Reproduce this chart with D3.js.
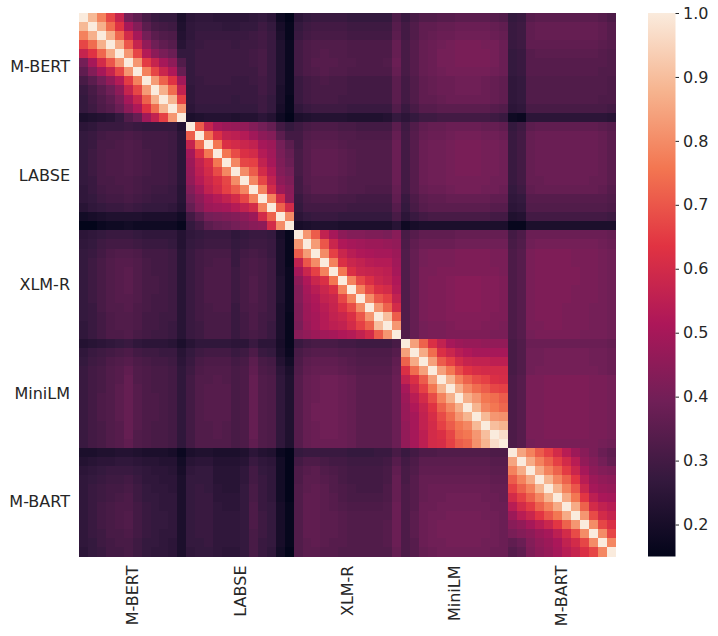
<!DOCTYPE html>
<html>
<head>
<meta charset="utf-8">
<script src="https://cdn.jsdelivr.net/npm/d3@7"></script>
<style>
  body { margin: 0; background: #fff; }
  text { font-family: "DejaVu Sans", sans-serif; }
</style>
</head>
<body>
<div class="chart"></div>
<script>
// model blocks, 12 layers each
var models = ["M-BERT", "LABSE", "XLM-R", "MiniLM", "M-BART"];
var nLayers = 12;
var cbarTicks = [0.2, 0.3, 0.4, 0.5, 0.6, 0.7, 0.8, 0.9, 1.0];

// similarity values x100, one 12x12 block per (row model, column model)
var mbert_mbert = [
  [100,89,78,67,57,40,36,31,28,27,27,21],
  [89,100,87,74,63,50,43,35,31,30,29,22],
  [78,87,100,87,73,60,50,40,35,33,32,23],
  [67,74,87,100,86,70,57,46,39,36,34,24],
  [57,63,73,86,100,82,67,53,45,41,38,27],
  [40,50,60,70,82,100,82,65,57,50,45,33],
  [36,43,50,57,67,82,100,78,67,58,52,37],
  [31,35,40,46,53,65,78,100,83,72,63,49],
  [28,31,35,39,45,57,67,83,100,87,74,56],
  [27,30,33,36,41,50,58,72,87,100,88,66],
  [27,29,32,34,38,45,52,63,74,88,100,82],
  [21,22,23,24,27,33,37,49,56,66,82,100]
];
var mbert_labse = [
  [25,26,26,25,25,25,25,26,27,25,18,15],
  [26,27,27,27,26,26,27,27,29,27,20,16],
  [26,28,28,28,28,28,28,29,30,28,21,16],
  [27,28,29,29,29,28,29,29,30,28,22,17],
  [27,29,29,29,29,29,29,30,31,28,22,17],
  [27,29,29,29,29,29,29,30,31,28,22,17],
  [27,29,29,29,29,29,29,29,31,28,22,17],
  [27,28,29,29,29,28,28,29,30,28,22,17],
  [26,28,28,28,28,28,28,28,30,28,21,17],
  [26,28,28,28,28,27,28,28,29,27,21,16],
  [25,27,27,27,27,27,27,27,29,27,20,16],
  [21,22,23,23,23,22,23,23,25,23,18,15]
];
var mbert_xlmr = [
  [25,27,28,28,28,28,27,27,27,27,27,32],
  [27,29,30,30,30,30,29,29,29,29,29,34],
  [28,30,31,31,31,31,30,30,30,30,30,35],
  [30,32,33,33,33,33,32,32,32,32,32,37],
  [30,32,33,34,33,33,32,32,32,32,32,37],
  [30,32,34,34,34,33,33,32,32,32,33,38],
  [30,32,33,34,33,33,32,32,32,32,32,37],
  [28,30,31,32,31,31,30,30,30,30,30,35],
  [28,30,31,31,31,31,30,30,30,30,30,35],
  [28,30,31,31,31,30,30,30,30,30,30,35],
  [26,28,29,29,29,29,28,28,28,28,28,33],
  [21,22,23,23,23,23,22,22,22,22,23,27]
];
var mbert_minilm = [
  [28,31,33,33,34,34,35,35,35,35,34,33],
  [30,33,36,36,37,37,38,38,38,38,37,36],
  [30,33,36,37,38,38,39,39,39,39,38,37],
  [31,34,37,38,39,40,41,41,41,40,40,38],
  [31,34,37,38,40,40,41,41,41,41,40,38],
  [31,34,37,38,40,40,41,41,41,41,40,38],
  [31,34,37,38,39,40,40,40,40,40,39,38],
  [30,33,36,37,38,38,39,39,39,38,37,36],
  [30,33,36,37,38,38,39,39,39,38,37,36],
  [30,33,36,36,37,38,38,38,38,38,37,36],
  [28,31,34,34,35,35,35,35,35,35,34,33],
  [25,27,29,29,30,30,30,30,30,30,29,28]
];
var mbert_mbart = [
  [27,28,34,35,35,35,35,35,35,35,34,32],
  [28,29,36,37,37,37,37,37,37,37,36,34],
  [28,29,36,37,37,37,37,37,37,37,36,34],
  [28,29,36,36,36,36,36,36,36,36,35,34],
  [27,28,34,35,35,35,35,35,35,35,34,33],
  [27,28,34,34,34,34,34,34,34,34,34,33],
  [27,28,34,34,34,34,34,34,34,34,33,33],
  [26,27,33,33,33,33,33,33,33,33,33,32],
  [26,27,33,33,33,33,33,33,33,33,33,32],
  [26,27,33,33,33,33,33,33,33,33,32,32],
  [25,26,31,31,31,31,31,31,31,31,31,30],
  [18,17,25,25,25,25,25,25,25,25,25,24]
];

var labse_mbert = [
  [25,26,28,28,28,29,28,27,27,27,27,23],
  [27,28,30,31,31,32,31,30,30,30,29,25],
  [27,28,31,31,32,33,32,30,30,30,29,25],
  [27,29,31,32,32,33,32,31,30,30,29,25],
  [27,29,31,32,32,33,32,31,30,30,29,25],
  [27,29,31,32,32,33,32,31,30,30,29,25],
  [27,28,31,31,32,32,31,30,30,30,29,25],
  [26,28,30,31,31,32,31,30,29,29,28,24],
  [26,27,29,30,30,31,30,29,28,28,28,24],
  [24,26,27,28,28,29,28,27,27,27,26,23],
  [19,20,21,22,22,22,22,21,21,21,21,19],
  [15,15,17,18,18,19,18,18,18,18,18,16]
];
var labse_labse = [
  [100,71,57,50,48,47,46,43,40,37,30,27],
  [71,100,74,62,56,55,53,49,45,43,35,30],
  [57,74,100,76,62,60,58,56,50,48,40,35],
  [50,62,76,100,76,68,62,60,53,49,41,37],
  [48,56,62,76,100,79,67,66,56,50,42,38],
  [47,55,60,68,79,100,80,71,60,53,43,40],
  [46,53,58,62,67,80,100,79,67,56,45,42],
  [43,49,56,60,66,71,79,100,78,60,48,44],
  [40,45,50,53,56,60,67,78,100,78,60,45],
  [37,43,48,49,50,53,56,60,78,100,72,60],
  [30,35,40,41,42,43,45,48,60,72,100,80],
  [27,30,35,37,38,40,42,44,45,60,80,100]
];
var labse_xlmr = [
  [29,31,32,32,32,31,31,30,30,30,30,35],
  [30,33,34,34,34,33,33,32,32,32,32,37],
  [30,34,35,35,35,34,33,33,33,33,33,38],
  [31,34,36,36,36,35,34,33,33,33,33,38],
  [31,34,36,36,36,35,34,33,33,33,33,38],
  [31,34,36,36,36,35,34,33,33,33,33,38],
  [30,34,35,35,35,34,33,33,33,33,33,38],
  [30,33,35,35,35,34,33,33,32,32,32,37],
  [28,31,32,32,32,31,31,30,30,30,30,36],
  [27,30,30,30,30,30,29,29,29,29,29,34],
  [25,27,28,28,28,27,27,27,27,27,27,31],
  [20,21,22,22,22,21,21,21,21,21,21,24]
];
var labse_minilm = [
  [29,33,36,37,37,38,38,38,38,37,37,36],
  [30,34,37,38,38,39,40,40,40,39,39,38],
  [30,34,38,39,39,40,41,41,41,40,40,39],
  [30,34,38,39,39,40,41,41,41,40,40,39],
  [30,34,38,39,39,40,41,41,41,40,40,39],
  [30,34,38,39,39,40,41,41,41,40,40,39],
  [30,34,38,39,39,40,40,40,40,40,39,39],
  [30,34,37,38,38,39,40,40,40,39,39,38],
  [28,32,35,36,36,37,37,37,37,37,36,36],
  [27,31,34,35,35,35,35,35,35,35,34,34],
  [25,28,30,31,31,31,31,31,31,31,30,30],
  [18,20,21,21,21,21,21,21,21,21,21,21]
];
var labse_mbart = [
  [27,29,35,36,36,36,36,36,36,36,35,34],
  [28,30,37,38,38,38,38,38,38,38,37,35],
  [28,30,37,38,38,38,38,38,38,38,37,35],
  [28,30,37,38,38,38,38,38,38,38,37,35],
  [28,30,37,38,38,38,38,38,38,38,37,35],
  [28,30,37,38,38,38,38,38,38,38,37,35],
  [28,30,37,37,38,38,38,38,38,37,37,35],
  [27,29,36,37,37,37,37,37,37,37,36,34],
  [26,27,34,34,34,34,34,34,34,34,34,33],
  [25,26,33,33,33,33,33,33,33,33,33,32],
  [22,23,30,30,30,30,30,30,30,30,30,29],
  [16,16,21,21,21,21,21,21,21,21,21,21]
];

var xlmr_mbert = [
  [25,26,27,28,28,28,27,26,26,26,26,23],
  [26,27,29,30,30,30,29,28,28,28,27,23],
  [27,28,30,32,33,33,32,30,30,30,29,24],
  [27,29,31,33,34,34,33,31,30,30,29,24],
  [27,29,31,33,34,35,33,31,30,30,29,24],
  [27,29,31,33,34,35,33,31,31,30,29,24],
  [27,29,31,33,34,35,33,31,31,30,29,24],
  [27,29,31,33,34,34,33,31,30,30,29,24],
  [27,28,31,33,33,34,32,31,30,30,29,24],
  [27,28,30,32,33,33,32,30,30,29,29,24],
  [26,28,30,32,33,33,32,30,30,29,28,24],
  [26,28,30,32,32,33,31,30,29,29,28,24]
];
var xlmr_labse = [
  [26,27,28,28,28,26,27,28,28,27,20,16],
  [27,28,29,29,29,27,28,29,29,28,21,16],
  [28,30,31,31,31,28,30,31,30,28,21,16],
  [28,30,31,32,32,28,31,32,31,29,21,16],
  [28,30,32,32,32,29,31,32,31,29,21,17],
  [28,30,32,32,32,29,31,33,31,29,22,17],
  [28,30,32,32,32,29,31,33,31,29,22,17],
  [28,30,32,32,32,29,31,33,31,29,22,17],
  [28,30,31,32,32,28,31,32,31,29,21,17],
  [28,30,31,31,31,28,30,32,30,29,21,16],
  [28,29,31,31,31,28,30,32,30,28,21,16],
  [28,29,31,31,31,28,30,31,30,28,21,16]
];
var xlmr_xlmr = [
  [100,82,71,56,50,45,43,43,42,42,41,44],
  [82,100,83,70,58,52,50,49,48,48,47,46],
  [71,83,100,80,66,58,54,52,51,50,50,48],
  [56,70,80,100,78,62,58,56,54,53,53,49],
  [50,58,66,78,100,76,62,58,57,56,55,50],
  [45,52,58,62,76,100,78,67,62,58,56,52],
  [43,50,54,58,62,78,100,78,68,62,60,53],
  [43,49,52,56,58,67,78,100,80,70,66,56],
  [42,48,51,54,57,62,68,80,100,82,72,60],
  [42,48,50,53,56,58,62,70,82,100,90,71],
  [41,47,50,53,55,56,60,66,72,90,100,82],
  [44,46,48,49,50,52,53,56,60,71,82,100]
];
var xlmr_minilm = [
  [31,34,36,36,36,36,37,37,37,37,37,37],
  [32,36,38,38,38,38,39,39,39,39,39,39],
  [33,37,40,41,41,41,42,42,42,42,41,41],
  [33,37,40,41,41,41,42,42,42,42,41,41],
  [33,37,41,41,42,42,42,42,42,42,42,41],
  [33,37,41,42,42,43,44,44,44,43,43,42],
  [33,37,41,42,42,43,44,44,44,43,43,42],
  [33,37,41,42,42,43,44,44,44,43,43,42],
  [33,37,41,42,42,43,44,44,44,43,43,42],
  [33,37,41,42,42,43,43,43,43,43,42,42],
  [33,37,40,41,41,42,43,43,43,42,42,41],
  [33,37,40,41,41,42,42,42,42,42,41,41]
];
var xlmr_mbart = [
  [30,32,38,38,38,38,38,38,38,38,38,37],
  [31,33,39,40,40,40,40,40,40,40,39,38],
  [32,34,41,42,42,42,42,41,41,41,40,39],
  [32,34,41,42,42,42,42,41,41,41,40,39],
  [32,34,41,42,42,42,42,42,41,41,40,39],
  [32,34,41,42,42,42,42,42,41,41,40,39],
  [32,34,41,42,42,42,42,41,41,41,40,39],
  [32,34,41,42,42,42,42,41,41,41,40,39],
  [32,34,41,42,42,42,41,41,41,40,40,39],
  [32,34,41,42,42,42,41,41,41,40,40,39],
  [32,34,41,41,42,42,41,41,41,40,40,39],
  [32,34,40,41,41,41,41,41,40,40,40,39]
];

var minilm_mbert = [
  [23,24,25,26,27,28,26,25,25,25,24,21],
  [26,28,29,30,31,32,30,29,29,28,28,24],
  [27,29,30,32,33,34,32,31,30,30,29,25],
  [28,30,31,33,34,36,33,32,31,31,30,26],
  [28,30,31,33,34,37,33,32,31,31,30,26],
  [28,30,31,33,35,37,34,32,31,31,30,26],
  [28,30,32,33,35,37,34,32,32,31,30,26],
  [28,30,32,33,35,37,34,32,32,31,30,26],
  [28,30,32,33,35,37,34,32,32,31,30,26],
  [28,30,31,33,34,37,34,32,31,31,30,26],
  [28,30,31,33,34,37,33,32,31,31,30,26],
  [28,30,31,33,34,36,33,32,31,31,30,26]
];
var minilm_labse = [
  [24,26,26,26,26,25,25,28,25,25,20,16],
  [27,29,30,30,30,28,29,32,28,27,21,17],
  [28,31,32,32,32,30,31,35,31,30,23,19],
  [29,32,33,33,33,31,32,36,32,31,25,21],
  [30,33,33,34,33,31,32,37,33,32,26,22],
  [30,33,34,34,34,31,32,37,33,32,26,22],
  [30,33,34,34,34,31,32,37,33,32,26,22],
  [30,33,34,34,34,31,32,37,33,32,26,22],
  [30,33,34,34,34,31,32,37,33,32,26,22],
  [30,33,33,34,33,31,32,37,33,32,26,22],
  [30,33,33,34,33,31,32,37,33,32,26,22],
  [30,33,33,33,33,31,32,36,33,32,26,22]
];
var minilm_xlmr = [
  [28,30,31,31,31,30,30,29,29,29,29,31],
  [31,33,34,34,34,33,33,32,32,32,32,34],
  [32,35,36,36,36,35,34,33,33,33,33,36],
  [33,36,37,37,37,36,35,34,34,34,34,37],
  [34,37,38,39,39,38,37,35,35,35,35,38],
  [34,37,38,39,39,38,37,35,35,35,35,38],
  [34,37,38,39,39,38,37,35,35,35,35,38],
  [34,37,39,39,39,38,37,35,35,35,35,38],
  [34,37,39,39,39,38,37,35,35,35,35,38],
  [34,37,38,39,39,38,37,35,35,35,35,38],
  [34,37,38,39,39,38,37,35,35,35,35,38],
  [34,37,38,38,38,38,37,35,35,35,35,38]
];
var minilm_minilm = [
  [100,84,72,62,56,50,48,47,47,46,46,46],
  [84,100,86,74,62,58,54,52,50,50,50,50],
  [72,86,100,84,71,66,60,57,56,56,55,55],
  [62,74,84,100,84,76,68,63,61,60,60,60],
  [56,62,71,84,100,88,78,72,68,66,62,61],
  [50,58,66,76,88,100,87,79,74,71,67,66],
  [48,54,60,68,78,87,100,87,82,76,74,71],
  [47,52,57,63,72,79,87,100,88,79,76,73],
  [47,50,56,61,68,74,82,88,100,89,82,81],
  [46,50,56,60,66,71,76,79,89,100,90,88],
  [46,50,55,60,62,67,74,76,82,90,100,97],
  [46,50,55,60,61,66,71,73,81,88,97,100]
];
var minilm_mbart = [
  [31,33,38,38,38,38,38,38,38,38,38,37],
  [31,33,39,39,40,40,40,40,40,39,39,38],
  [31,33,39,39,40,40,40,40,40,39,39,38],
  [31,33,39,40,40,40,40,40,40,40,39,38],
  [32,34,41,41,42,42,42,42,42,41,41,40],
  [32,34,41,41,42,42,42,42,42,41,41,40],
  [32,34,41,41,42,42,42,42,42,41,41,40],
  [32,34,41,41,42,42,42,42,42,41,41,40],
  [32,34,41,41,42,42,42,42,42,41,41,40],
  [32,34,41,41,42,42,42,42,42,41,41,40],
  [32,34,41,41,42,42,42,42,42,41,41,40],
  [32,34,40,41,41,41,41,41,41,41,40,39]
];

var mbart_mbert = [
  [21,21,22,22,23,23,22,21,21,21,20,17],
  [23,24,25,25,26,26,25,24,24,23,23,19],
  [25,26,27,28,28,28,27,26,25,25,24,20],
  [26,27,28,29,29,30,28,26,26,25,25,21],
  [26,28,29,30,30,31,29,27,26,26,25,21],
  [26,28,29,30,31,32,29,27,27,26,26,21],
  [26,28,30,31,32,32,30,28,27,26,26,21],
  [26,28,30,31,32,33,30,28,27,27,26,21],
  [26,28,30,31,32,33,30,28,27,27,26,21],
  [26,28,29,31,31,32,30,28,27,26,26,21],
  [26,27,29,30,31,31,29,27,27,26,25,21],
  [25,27,28,30,30,31,29,27,26,26,25,21]
];
var mbart_labse = [
  [21,22,22,21,21,21,22,25,23,22,17,15],
  [24,25,25,23,23,23,24,28,26,25,19,15],
  [26,27,27,24,24,24,26,30,27,26,19,15],
  [27,27,27,24,24,24,26,30,28,26,19,15],
  [27,28,27,25,24,24,27,31,28,26,19,15],
  [27,28,28,25,25,25,27,31,28,26,19,15],
  [27,28,28,26,25,25,27,32,28,27,20,16],
  [27,28,28,26,26,26,27,32,29,27,20,16],
  [27,28,28,26,26,26,27,32,29,27,20,16],
  [27,28,28,26,26,26,27,31,29,27,20,16],
  [27,27,28,26,26,26,27,31,28,27,20,16],
  [26,27,27,26,25,25,27,31,28,26,19,15]
];
var mbart_xlmr = [
  [27,28,28,28,28,28,27,27,27,28,28,31],
  [30,32,32,31,30,30,29,29,29,29,30,34],
  [32,34,35,33,32,31,30,30,30,30,31,36],
  [32,35,35,34,33,31,30,30,30,30,31,37],
  [33,35,36,35,33,32,31,30,30,30,32,37],
  [33,36,36,35,34,32,31,31,31,31,32,37],
  [33,36,36,35,34,33,32,32,32,32,33,38],
  [33,36,36,35,35,34,33,33,33,33,33,38],
  [33,36,36,35,35,34,33,33,33,33,34,38],
  [33,36,36,35,35,34,33,33,33,33,34,38],
  [33,35,36,35,34,34,33,33,33,33,34,38],
  [33,35,35,34,34,33,33,33,33,33,33,37]
];
var mbart_minilm = [
  [28,30,32,32,33,33,33,33,33,33,32,32],
  [30,32,35,35,35,35,35,35,35,35,34,34],
  [31,33,36,36,36,36,36,36,36,36,35,35],
  [31,34,37,37,37,37,37,37,37,37,36,36],
  [32,34,37,38,38,38,38,38,38,38,37,37],
  [32,34,37,38,38,39,39,39,39,38,38,37],
  [32,34,38,38,39,39,39,39,39,39,38,38],
  [32,35,38,39,39,40,40,40,40,39,39,38],
  [32,35,38,39,40,40,40,40,40,40,39,38],
  [32,35,38,39,40,40,40,40,40,40,39,38],
  [32,34,38,39,39,40,40,40,40,39,39,38],
  [32,34,37,38,39,39,39,39,39,39,38,38]
];
var mbart_mbart = [
  [100,85,78,71,66,60,54,48,44,41,38,36],
  [85,100,86,78,72,66,60,54,46,43,40,37],
  [78,86,100,86,78,72,65,58,50,45,43,42],
  [71,78,86,100,88,79,72,64,54,48,46,45],
  [66,72,78,88,100,88,78,70,58,50,48,47],
  [60,66,72,79,88,100,86,76,64,55,51,50],
  [54,60,65,72,78,86,100,86,72,60,56,54],
  [48,54,58,64,70,76,86,100,82,68,60,57],
  [44,46,50,54,58,64,72,82,100,80,67,62],
  [41,43,45,48,50,55,60,68,80,100,80,67],
  [36,38,43,46,48,51,56,60,67,80,100,79],
  [34,36,42,45,47,50,54,57,62,67,79,100]
];

// seaborn "rocket" colormap anchors, evenly spaced
var rocket = ["#03051a", "#35193e", "#701f57", "#ad1759", "#e13342", "#f37651", "#f6b48f", "#faebdd"];

var svgWidth = 718;
var svgHeight = 636;
var margin = { top: 13, left: 79 };
var chartWidth = 536.5;
var chartHeight = 543.5;
var cbar = { x: 648, width: 27.5 };

var svg = d3.select(".chart")
  .append("svg")
  .attr("width", svgWidth)
  .attr("height", svgHeight);

var chartGroup = svg.append("g")
  .attr("transform", `translate(${margin.left}, ${margin.top})`);

var blockGrid = [
  [mbert_mbert, mbert_labse, mbert_xlmr, mbert_minilm, mbert_mbart],
  [labse_mbert, labse_labse, labse_xlmr, labse_minilm, labse_mbart],
  [xlmr_mbert, xlmr_labse, xlmr_xlmr, xlmr_minilm, xlmr_mbart],
  [minilm_mbert, minilm_labse, minilm_xlmr, minilm_minilm, minilm_mbart],
  [mbart_mbert, mbart_labse, mbart_xlmr, mbart_minilm, mbart_mbart]
];

var cells = [];
blockGrid.forEach(function(rowBlocks, bi) {
  rowBlocks.forEach(function(block, bj) {
    block.forEach(function(vals, a) {
      vals.forEach(function(v, b) {
        cells.push({ row: bi * nLayers + a, col: bj * nLayers + b, value: v / 100 });
      });
    });
  });
});

var idx = d3.range(models.length * nLayers);
var xScale = d3.scaleBand().domain(idx).range([0, chartWidth]);
var yScale = d3.scaleBand().domain(idx).range([0, chartHeight]);

var extent = d3.extent(cells, d => d.value);
var colorScale = d3.scaleLinear()
  .domain(rocket.map((c, i) => extent[0] + (extent[1] - extent[0]) * i / (rocket.length - 1)))
  .range(rocket)
  .interpolate(d3.interpolateRgb);

// crisp edges so neighbouring cells don't leave seams
chartGroup.append("g")
  .attr("shape-rendering", "crispEdges")
  .selectAll("rect.cell")
  .data(cells)
  .enter()
  .append("rect")
  .attr("class", "cell")
  .attr("x", d => xScale(d.col))
  .attr("y", d => yScale(d.row))
  .attr("width", xScale.bandwidth())
  .attr("height", yScale.bandwidth())
  .attr("fill", d => colorScale(d.value));

// model labels
var modelX = d3.scaleBand().domain(models).range([0, chartWidth]);
var modelY = d3.scaleBand().domain(models).range([0, chartHeight]);

var yAxis = chartGroup.append("g")
  .call(d3.axisLeft(modelY).tickSize(0).tickPadding(9));
yAxis.select(".domain").remove();
yAxis.selectAll("text")
  .attr("fill", "#262626")
  .style("font-size", "16px")
  .style("font-family", "DejaVu Sans");

var xAxis = chartGroup.append("g")
  .attr("transform", `translate(0, ${chartHeight})`)
  .call(d3.axisBottom(modelX).tickSize(0));
xAxis.select(".domain").remove();
xAxis.selectAll("text")
  .attr("x", -9)
  .attr("y", 0)
  .attr("dy", "0.35em")
  .attr("transform", "rotate(-90)")
  .style("text-anchor", "end")
  .attr("fill", "#262626")
  .style("font-size", "16px")
  .style("font-family", "DejaVu Sans");

// colorbar
var defs = svg.append("defs");
var grad = defs.append("linearGradient")
  .attr("id", "rocketGrad")
  .attr("x1", 0).attr("y1", 1)
  .attr("x2", 0).attr("y2", 0);
grad.selectAll("stop")
  .data(rocket)
  .enter()
  .append("stop")
  .attr("offset", (d, i) => i / (rocket.length - 1))
  .attr("stop-color", d => d);

var cbarGroup = svg.append("g")
  .attr("transform", `translate(${cbar.x}, ${margin.top})`);

cbarGroup.append("rect")
  .attr("width", cbar.width)
  .attr("height", chartHeight)
  .attr("fill", "url(#rocketGrad)");

var cbarScale = d3.scaleLinear().domain(extent).range([chartHeight, 0]);
var cbarAxis = cbarGroup.append("g")
  .attr("transform", `translate(${cbar.width}, 0)`)
  .call(d3.axisRight(cbarScale).tickValues(cbarTicks).tickFormat(d3.format(".1f")).tickSize(3.5).tickPadding(4));
cbarAxis.select(".domain").remove();
cbarAxis.selectAll("line").attr("stroke", "#262626");
cbarAxis.selectAll("text")
  .attr("fill", "#262626")
  .style("font-size", "16px")
  .style("font-family", "DejaVu Sans");
</script>
</body>
</html>
